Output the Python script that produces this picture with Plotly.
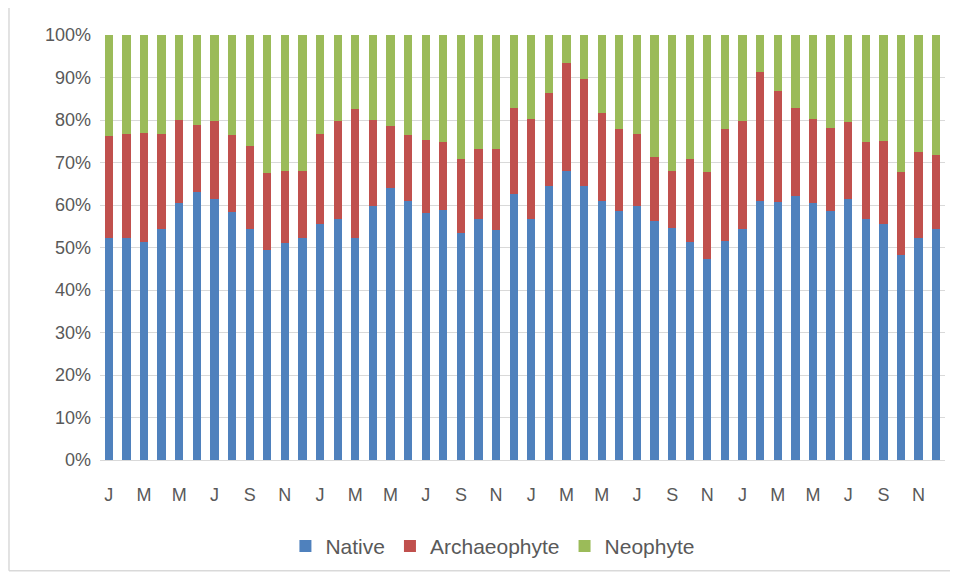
import plotly.graph_objects as go

months = ["Jan", "Feb", "Mar", "Apr", "May", "Jun", "Jul", "Aug", "Sep", "Oct", "Nov", "Dec"]
years = ["Y1", "Y2", "Y3", "Y4"]
categories = [f"{m} {y}" for y in years for m in months]

# cumulative tops (%)
native = [52.2, 52.2, 51.3, 54.4, 60.5, 63.1, 61.5, 58.4, 54.4, 49.5, 51.1, 52.2,
          55.6, 56.8, 52.2, 59.7, 64.0, 60.9, 58.1, 58.9, 53.4, 56.7, 54.2, 62.5,
          56.8, 64.4, 67.9, 64.4, 61.0, 58.7, 59.7, 56.2, 54.6, 51.3, 47.3, 51.5,
          54.4, 60.9, 60.6, 62.1, 60.5, 58.5, 61.3, 56.6, 55.6, 48.3, 52.2, 54.4]
native_plus_arch = [76.2, 76.6, 77.0, 76.6, 80.1, 78.8, 79.7, 76.4, 74.0, 67.6, 68.0, 68.0,
                    76.6, 79.7, 82.6, 80.0, 78.6, 76.4, 75.2, 74.8, 70.9, 73.1, 73.1, 82.9,
                    80.3, 86.4, 93.5, 89.7, 81.7, 78.0, 76.8, 71.3, 68.0, 70.9, 67.8, 77.8,
                    79.7, 91.4, 86.8, 82.9, 80.3, 78.2, 79.6, 74.8, 75.0, 67.8, 72.4, 71.7]
archaeophyte = [round(t - n, 1) for t, n in zip(native_plus_arch, native)]
neophyte = [round(100 - t, 1) for t in native_plus_arch]

tick_vals = categories[::2]
tick_text = [c[0] for c in tick_vals]
y_ticks = [0, 10, 20, 30, 40, 50, 60, 70, 80, 90, 100]

font_family = "Liberation Sans Narrow, Liberation Sans, Arial, sans-serif"
grey = "#595959"
border = dict(color="#D9D9D9", width=1.5)

fig = go.Figure()
fig.add_trace(go.Bar(x=categories, y=native, name="Native", marker_color="#4F81BD",
                     marker_line_width=0))
fig.add_trace(go.Bar(x=categories, y=archaeophyte, name="Archaeophyte", marker_color="#C0504D",
                     marker_line_width=0))
fig.add_trace(go.Bar(x=categories, y=neophyte, name="Neophyte", marker_color="#9BBB59",
                     marker_line_width=0))

fig.update_layout(
    barmode="stack",
    bargap=0.53,
    width=950, height=570,
    margin=dict(l=92, r=13, t=27, b=117),
    paper_bgcolor="white", plot_bgcolor="white",
    font=dict(family=font_family, size=18, color=grey),
    showlegend=True,
    legend=dict(orientation="h", x=0.465, xanchor="center", y=-0.152, yanchor="top",
                font=dict(size=21, color=grey), traceorder="normal"),
    shapes=[
        dict(type="line", xref="paper", yref="paper", x0=-0.1077, x1=1.1, y0=1.0657, y1=1.0657, line=border, layer="below"),
        dict(type="line", xref="paper", yref="paper", x0=-0.1077, x1=-0.1077, y0=-0.2606, y1=1.0657, line=border, layer="below"),
        dict(type="line", xref="paper", yref="paper", x0=-0.1077, x1=1.1, y0=-0.2606, y1=-0.2606, line=border, layer="below"),
    ],
)
fig.update_xaxes(tickmode="array", tickvals=tick_vals, ticktext=tick_text,
                 showgrid=False, showline=True, linecolor="#D9D9D9", linewidth=1,
                 ticks="", tickfont=dict(size=18, color=grey), tickangle=0,
                 ticklabelstandoff=18)
fig.update_yaxes(range=[0, 100], tickvals=y_ticks, ticktext=[f"{v}%" for v in y_ticks],
                 showgrid=True, gridcolor="#D9D9D9", gridwidth=1, zeroline=False,
                 showline=False, ticks="", tickfont=dict(size=18, color=grey),
                 ticklabelstandoff=8)

fig.write_html("out.html")
